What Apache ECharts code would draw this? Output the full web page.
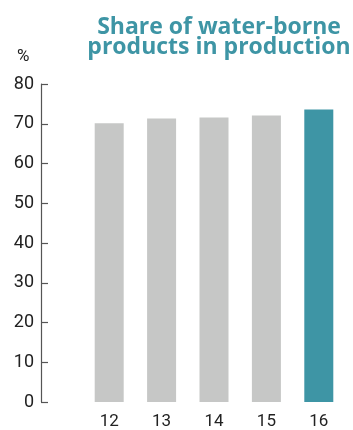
<!DOCTYPE html>
<html>
<head>
<meta charset="utf-8">
<script src="https://cdn.jsdelivr.net/npm/echarts@6/dist/echarts.min.js"></script>
<style>
html,body{margin:0;padding:0;background:#fff;}
#chart{width:353px;height:430px;}
</style>
</head>
<body>
<div id="chart"></div>
<script>
var categories = ['12', '13', '14', '15', '16'];
var shareValues = [70.1, 71.3, 71.6, 72.1, 73.6];
var yTicks = [0, 10, 20, 30, 40, 50, 60, 70, 80];
var titleText = 'Share of water-borne\nproducts in production';
var unitLabel = '%';

var grey = '#c6c7c6';
var teal = '#3e95a5';

var chart = echarts.init(document.getElementById('chart'));
chart.setOption({
  animation: false,
  title: {
    text: titleText,
    left: 214,
    top: 12,
    textAlign: 'center',
    textStyle: {
      fontFamily: 'Open Sans',
      fontWeight: 'bold',
      fontSize: 23,
      lineHeight: 20,
      color: teal
    }
  },
  graphic: [{
    type: 'text',
    left: 17,
    top: 48,
    style: {
      text: unitLabel,
      font: '17px Roboto',
      fill: '#222'
    }
  }],
  grid: {
    left: 83,
    right: 8,
    top: 84,
    bottom: 25,
    containLabel: false
  },
  xAxis: {
    type: 'category',
    data: categories,
    axisLine: { show: false },
    axisTick: { show: false },
    axisLabel: {
      margin: 11,
      fontFamily: 'Roboto',
      fontSize: 17,
      color: '#222'
    }
  },
  yAxis: {
    type: 'value',
    min: yTicks[0],
    max: yTicks[yTicks.length - 1],
    interval: 10,
    offset: 42,
    axisLine: { show: true, lineStyle: { color: '#555', width: 1.2 } },
    axisTick: { show: true, inside: true, length: 7, lineStyle: { color: '#555', width: 1.2 } },
    splitLine: { show: false },
    axisLabel: {
      margin: 7,
      fontFamily: 'Roboto',
      fontSize: 18,
      color: '#222'
    }
  },
  series: [{
    type: 'bar',
    barWidth: 29,
    data: shareValues.map(function (v, i) {
      return { value: v, itemStyle: { color: i === shareValues.length - 1 ? teal : grey } };
    })
  }]
});
</script>
</body>
</html>
